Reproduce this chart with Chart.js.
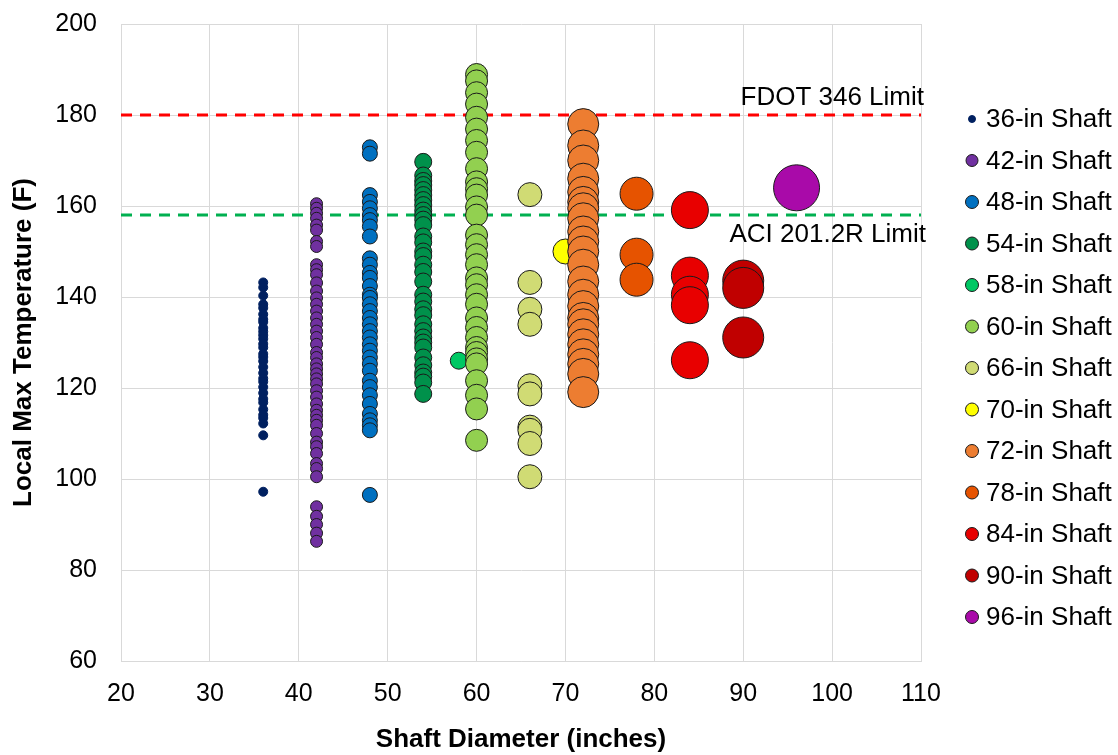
<!DOCTYPE html>
<html>
<head>
<meta charset="utf-8">
<script src="https://cdn.jsdelivr.net/npm/chart.js@4.4.1/dist/chart.umd.min.js"></script>
<style>
html,body{margin:0;padding:0;background:#fff;}
#wrap{width:1118px;height:755px;}
</style>
</head>
<body>
<div id="wrap"><canvas id="c" width="1118" height="755"></canvas></div>
<script>
// ---- data ----
const diameters = [36, 42, 48, 54, 58, 60, 66, 70, 72, 78, 84, 90, 96];
const seriesLabels = ["36-in Shaft","42-in Shaft","48-in Shaft","54-in Shaft","58-in Shaft","60-in Shaft","66-in Shaft","70-in Shaft","72-in Shaft","78-in Shaft","84-in Shaft","90-in Shaft","96-in Shaft"];
const t36 = [143.2,142.1,140.3,138.4,137.6,136.2,135.1,134.5,133.2,132.4,131.6,130.8,129.7,128.9,127.5,126.8,125.9,124.6,123.3,122.1,121.4,120.2,118.9,117.6,116.8,115.3,114.1,113.4,112.2,109.6,97.2];
const t42 = [160.5,159.5,158.4,157.3,155.8,154.7,152.2,151.1,147.1,146.0,144.9,143.1,141.3,139.8,138.4,136.9,135.4,134.0,132.5,131.1,129.6,127.8,126.7,125.3,124.2,123.1,122.0,120.9,119.4,118.0,116.5,115.1,114.0,112.9,111.8,110.0,108.1,107.1,105.6,103.4,102.3,100.5,93.9,91.8,90.0,88.1,86.3];
const t48 = [172.9,171.5,162.4,160.9,159.5,158.0,156.9,155.5,153.3,148.5,147.1,145.3,144.2,142.4,140.5,139.8,138.4,136.9,135.4,134.0,132.5,131.1,129.6,128.2,126.7,125.3,123.8,121.6,120.2,118.4,116.5,114.3,112.9,111.8,110.7,96.5];
const t54 = [169.7,166.7,165.5,164.6,163.5,162.4,161.3,160.2,159.0,158.0,157.0,155.8,153.3,152.0,150.0,149.0,147.1,145.5,143.4,140.5,139.0,137.3,136.0,134.0,132.5,131.1,130.0,128.9,126.7,125.0,123.4,122.5,121.2,118.7];
const t58 = [126.0];
const t60 = [188.9,187.5,184.9,182.4,179.5,176.9,174.4,171.8,168.2,165.3,163.8,162.4,159.8,158.0,153.6,151.5,149.3,147.1,144.2,142.7,140.5,138.4,135.4,133.3,131.1,128.9,127.8,126.4,125.3,121.6,118.4,115.4,108.5];
const t66 = [162.5,143.2,137.3,134.0,120.5,118.7,111.4,110.7,107.8,100.5];
const t70 = [150.0];
const t72 = [178.0,173.3,170.0,166.0,163.1,160.9,159.5,157.3,154.4,152.2,150.0,147.1,143.4,140.5,138.0,135.4,134.0,131.8,129.6,127.4,125.3,123.1,119.1];
const t78 = [162.7,149.3,143.8];
const t84 = [159.1,144.7,140.5,138.2,126.1];
const t90 = [143.6,142.0,131.1];
const t96 = [164.0];
const seriesValues = [t36,t42,t48,t54,t58,t60,t66,t70,t72,t78,t84,t90,t96];
const xTicks = [20,30,40,50,60,70,80,90,100,110];
const yTicks = [60,80,100,120,140,160,180,200];
const limitX = [20, 110];
const fdotLimit = 180;
const aciLimit = 158;
const limitLabels = ["FDOT 346 Limit", "ACI 201.2R Limit"];

// ---- styles ----
const colors = ['#002060','#7030A0','#0070C0','#00914B','#00C864','#92D050','#D0DB74','#FFFF00','#ED7D31','#E65300','#E80000','#C00000','#A90AA9'];
const radii = [4.5,6,7.5,8.5,8.5,11,12,12.5,15.5,16.5,18.5,20.5,23];
const legendRadii = [3.5,6,6.5,6.5,6.5,6.5,6.5,6.5,6.5,6.5,6.5,6.5,6.5];
const FONT = "'Liberation Sans', Arial, sans-serif";

const datasets = seriesValues.map((vals, i) => ({
  type: 'scatter',
  label: seriesLabels[i],
  data: vals.map(v => ({x: diameters[i], y: v})),
  backgroundColor: colors[i],
  borderColor: i === 0 ? colors[0] : '#1a1a1a',
  borderWidth: 1,
  pointRadius: radii[i],
  pointHoverRadius: radii[i],
  order: -i
}));
datasets.push({
  type: 'line', label: limitLabels[0],
  data: limitX.map(x => ({x, y: fdotLimit})),
  borderColor: '#FF0000', borderWidth: 3, borderDash: [11, 8],
  pointRadius: 0, fill: false, order: 100
});
datasets.push({
  type: 'line', label: limitLabels[1],
  data: limitX.map(x => ({x, y: aciLimit})),
  borderColor: '#00B050', borderWidth: 3, borderDash: [11, 8],
  pointRadius: 0, fill: false, order: 101
});

const extras = {
  id: 'extras',
  afterDraw(chart) {
    const ctx = chart.ctx;
    const xs = chart.scales.x, ys = chart.scales.y;
    ctx.save();
    ctx.fillStyle = '#000';
    ctx.font = '26px ' + FONT;
    ctx.textAlign = 'right';
    ctx.textBaseline = 'middle';
    const rx = xs.getPixelForValue(limitX[1]) + 3;
    ctx.fillText(limitLabels[0], rx, ys.getPixelForValue(fdotLimit) - 17);
    ctx.fillText(limitLabels[1], rx + 2, ys.getPixelForValue(aciLimit) + 20);
    // legend
    const x0 = 972, y0 = 119, step = 41.5;
    for (let i = 0; i < seriesLabels.length; i++) {
      const cy = y0 + i * step;
      ctx.beginPath();
      ctx.arc(x0, cy, legendRadii[i], 0, Math.PI * 2);
      ctx.fillStyle = colors[i];
      ctx.fill();
      ctx.lineWidth = 1;
      ctx.strokeStyle = i === 0 ? colors[0] : '#1a1a1a';
      ctx.stroke();
      ctx.fillStyle = '#000';
      ctx.textAlign = 'left';
      ctx.fillText(seriesLabels[i], 986, cy + 1);
    }
    ctx.restore();
  }
};

new Chart(document.getElementById('c'), {
  type: 'scatter',
  data: { datasets },
  options: {
    responsive: false,
    animation: false,
    events: [],
    layout: { padding: { left: 0, right: 197, top: 21, bottom: 0 } },
    plugins: { legend: { display: false }, tooltip: { enabled: false } },
    scales: {
      x: {
        type: 'linear', min: 20, max: 110,
        afterBuildTicks: s => { s.ticks = xTicks.map(v => ({value: v})); },
        afterFit: s => { s.height = 94; s.paddingLeft = 0; s.paddingRight = 0; },
        grid: { color: '#D9D9D9', lineWidth: 1, drawTicks: false },
        border: { color: '#D9D9D9', width: 1 },
        ticks: { color: '#000', font: { family: FONT, size: 25 }, padding: 18, maxRotation: 0 },
        title: { display: true, text: 'Shaft Diameter (inches)', color: '#000',
                 font: { family: FONT, size: 26, weight: 'bold', lineHeight: 1.2 }, padding: { top: 0, bottom: 0 } }
      },
      y: {
        type: 'linear', min: 60, max: 200,
        afterBuildTicks: s => { s.ticks = yTicks.map(v => ({value: v})); },
        afterFit: s => { s.width = 121; s.paddingTop = 0; s.paddingBottom = 0; },
        grid: { color: '#D9D9D9', lineWidth: 1, drawTicks: false },
        border: { color: '#D9D9D9', width: 1 },
        ticks: { color: '#000', font: { family: FONT, size: 25 }, padding: 24 },
        title: { display: true, text: 'Local Max Temperature (F)', color: '#000',
                 font: { family: FONT, size: 26, weight: 'bold', lineHeight: 1.2 }, padding: { top: 8, bottom: 0 } }
      }
    }
  },
  plugins: [extras]
});
</script>
</body>
</html>
